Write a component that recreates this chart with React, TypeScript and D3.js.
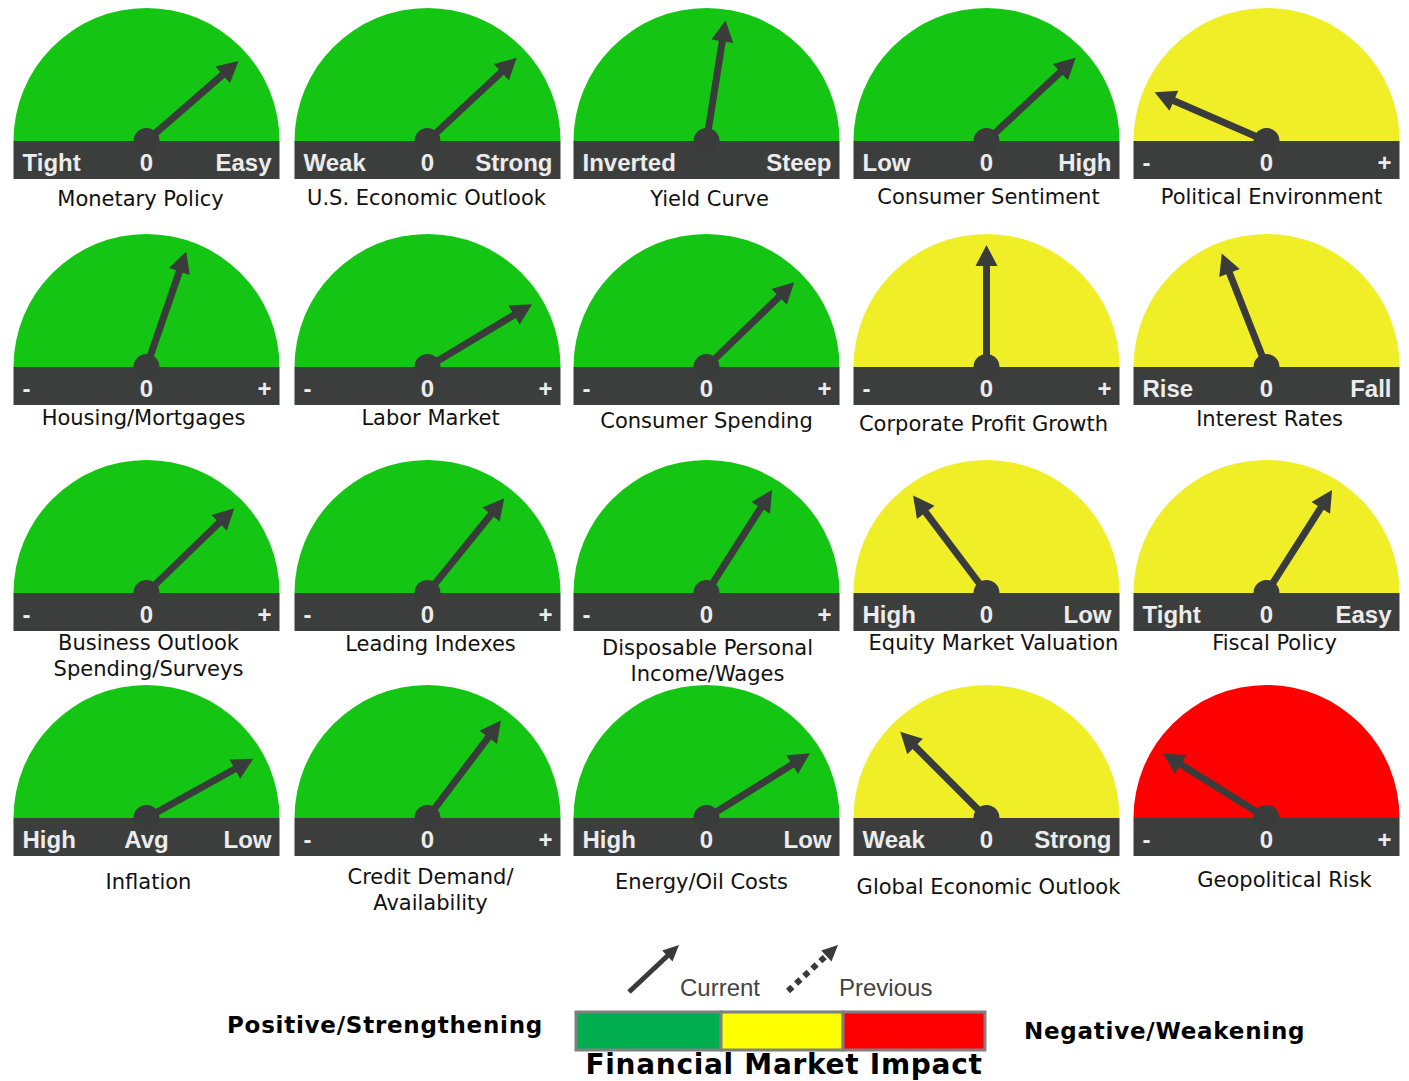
import React from 'react';
import * as d3 from 'd3';

// gauge data, read row by row (5 per row)
const titles: string[][] = [
  ['Monetary Policy'], ['U.S. Economic Outlook'], ['Yield Curve'], ['Consumer Sentiment'], ['Political Environment'],
  ['Housing/Mortgages'], ['Labor Market'], ['Consumer Spending'], ['Corporate Profit Growth'], ['Interest Rates'],
  ['Business Outlook', 'Spending/Surveys'], ['Leading Indexes'], ['Disposable Personal', 'Income/Wages'], ['Equity Market Valuation'], ['Fiscal Policy'],
  ['Inflation'], ['Credit Demand/', 'Availability'], ['Energy/Oil Costs'], ['Global Economic Outlook'], ['Geopolitical Risk'],
];
const leftLabels = [
  'Tight', 'Weak', 'Inverted', 'Low', '-',
  '-', '-', '-', '-', 'Rise',
  '-', '-', '-', 'High', 'Tight',
  'High', '-', 'High', 'Weak', '-',
];
const centerLabels = [
  '0', '0', '', '0', '0',
  '0', '0', '0', '0', '0',
  '0', '0', '0', '0', '0',
  'Avg', '0', '0', '0', '0',
];
const rightLabels = [
  'Easy', 'Strong', 'Steep', 'High', '+',
  '+', '+', '+', '+', 'Fall',
  '+', '+', '+', 'Low', 'Easy',
  'Low', '+', 'Low', 'Strong', '+',
];
// impact: 0 positive (green), 1 neutral (yellow), 2 negative (red)
const impact = [
  0, 0, 0, 0, 1,
  0, 0, 0, 1, 1,
  0, 0, 0, 1, 1,
  0, 0, 0, 1, 2,
];
// needle reading, degrees from vertical (-90 far left, +90 far right)
const needles = [
  49, 47, 9, 47, -66.5,
  19, 59, 46, 0, -21.5,
  46, 39, 32.5, -37, 32.5,
  61, 37, 58, -45, -58,
];

const impactColors = ['#14c514', '#f0ef27', '#fe0000'];
const legendNames = ['Positive/Strengthening', 'Negative/Weakening'];
const legendBarColors = ['#00ad4f', '#ffff00', '#ff0000'];
const legendBarShares = [145, 122, 142];

// layout
const colX = [146.5, 427.5, 706.5, 986.5, 1266.5];
const rowY = [141, 367, 593, 818];
const R = 133;
const BAND = 38;
const NEEDLE = 122;
const titleDy = [
  58, 57, 58, 56, 56,
  51, 51, 54, 57, 52,
  50, 51, 55, 50, 50,
  64, 59, 64, 69, 62,
];
const titleDx = [
  -6, -1, 3, 2, 5,
  -3, 3, 0, -3, 3,
  2, 3, 1, 7, 8,
  2, 3, -5, 2, 18,
];

const needleAngle = d3.scaleLinear().domain([-90, 90]).range([Math.PI, 0]);

function arrowPath(x0: number, y0: number, x1: number, y1: number, shaft: number, headLen: number, headW: number) {
  const a = Math.atan2(y1 - y0, x1 - x0);
  const L = Math.hypot(x1 - x0, y1 - y0);
  const ux = Math.cos(a), uy = Math.sin(a);
  const px = -uy, py = ux;
  const b = L - headLen;
  const pt = (along: number, side: number): [number, number] => [x0 + ux * along + px * side, y0 + uy * along + py * side];
  const pts = [
    pt(0, -shaft / 2), pt(b, -shaft / 2), pt(b, -headW / 2), pt(L, 0),
    pt(b, headW / 2), pt(b, shaft / 2), pt(0, shaft / 2),
  ];
  return d3.line()(pts) + 'Z';
}

const semi = d3.arc()({ innerRadius: 0, outerRadius: R, startAngle: -Math.PI / 2, endAngle: Math.PI / 2 }) as string;

function Gauge({ i }: { i: number }) {
  const cx = colX[i % 5];
  const cy = rowY[Math.floor(i / 5)];
  const a = needleAngle(needles[i]);
  const tx = cx + NEEDLE * Math.cos(a);
  const ty = cy - NEEDLE * Math.sin(a);
  const lab = { fill: '#ececec', fontFamily: '"Liberation Sans", Arial, sans-serif', fontWeight: 700, fontSize: 24 } as const;
  return (
    <g>
      <path d={semi} transform={`translate(${cx},${cy})`} fill={impactColors[impact[i]]} />
      <rect x={cx - R} y={cy} width={2 * R} height={BAND} fill="#3c3e3e" />
      <path d={arrowPath(cx, cy, tx, ty, 7, 21, 22)} fill="#3a3b3b" />
      <circle cx={cx} cy={cy} r={13} fill="#3a3b3b" />
      <text x={cx - R + 9} y={cy + 30} {...lab}>{leftLabels[i]}</text>
      <text x={cx} y={cy + 30} textAnchor="middle" {...lab}>{centerLabels[i]}</text>
      <text x={cx + R - 8} y={cy + 30} textAnchor="end" {...lab}>{rightLabels[i]}</text>
      {titles[i].map((t, k) => (
        <text key={k} x={cx + titleDx[i]} y={cy + titleDy[i] + 7 + k * 26} textAnchor="middle"
          fontFamily='"DejaVu Sans", Verdana, sans-serif' fontSize={21} fill="#111">{t}</text>
      ))}
    </g>
  );
}

export default function App() {
  const barX = d3.scaleLinear().domain([0, d3.sum(legendBarShares)]).range([576, 985]);
  const cum = d3.cumsum(legendBarShares);
  const bold = { fontFamily: '"DejaVu Sans", Verdana, sans-serif', fontWeight: 700, fill: '#000' } as const;
  return (
    <svg width={1409} height={1081} style={{ position: 'absolute', left: 0, top: 0, background: '#fff' }}>
      {needles.map((_, i) => <Gauge key={i} i={i} />)}

      {/* legend arrows */}
      <path d={arrowPath(629, 992, 679, 945, 5, 16, 15)} fill="#3a3a3a" />
      <text x={680} y={996} fontFamily='"Liberation Sans", Arial, sans-serif' fontSize={24} fill="#444">Current</text>
      <line x1={788} y1={991} x2={827} y2={955} stroke="#3a3a3a" strokeWidth={6} strokeDasharray="6,5" />
      <path d={arrowPath(822, 960, 838, 945, 0, 16, 15)} fill="#3a3a3a" />
      <text x={839} y={996} fontFamily='"Liberation Sans", Arial, sans-serif' fontSize={24} fill="#444">Previous</text>

      {legendBarColors.map((c, k) => (
        <rect key={k} x={barX(k === 0 ? 0 : cum[k - 1])} y={1012}
          width={barX(cum[k]) - barX(k === 0 ? 0 : cum[k - 1])} height={38}
          fill={c} stroke="#808080" strokeWidth={3} />
      ))}
      <text x={784} y={1074} textAnchor="middle" fontSize={28} letterSpacing={0.7} {...bold}>Financial Market Impact</text>
      <text x={227} y={1033} fontSize={23} letterSpacing={0.75} {...bold}>{legendNames[0]}</text>
      <text x={1024} y={1039} fontSize={23} letterSpacing={0.75} {...bold}>{legendNames[1]}</text>
    </svg>
  );
}
